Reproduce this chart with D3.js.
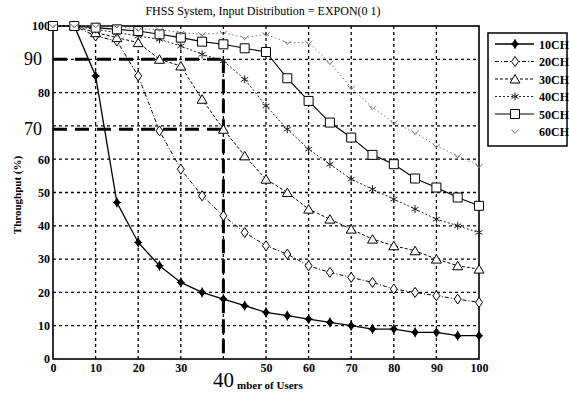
<!DOCTYPE html>
<html><head><meta charset="utf-8">
<script src="https://cdn.jsdelivr.net/npm/d3@7"></script>
<style>body{margin:0;background:#fff}svg{display:block}text{font-family:"Liberation Serif","DejaVu Serif",serif}</style>
</head><body><svg id="c" width="569" height="396"></svg>
<script>
const users = [0,5,10,15,20,25,30,35,40,45,50,55,60,65,70,75,80,85,90,95,100];
const ch10 = [100,100,85,47,35,28,23,20,18,16,14,13,12,11,10,9,9,8,8,7,7];
const ch20 = [100,100,97,95.5,85,68.5,57,49,43,38,34,31.5,28,26,24.5,23,21,20,19,18,17];
const ch30 = [100,100,98,96.5,95,90,88,78,69,61,54,50,45,42,39,36,34,32.5,30,28,27];
const ch40 = [100,100,99,98,97,96,94,91.5,89.5,84,76,69,63,58.5,54,51,48,45,42,40,38];
const ch50 = [100,100,99.5,99,98.5,97.5,96.5,95.3,94.5,93.3,92.2,84.3,77.5,71,66.5,61.3,58.5,54.2,51.5,48.5,46];
const ch60 = [100,100,100,100,99,99,98,97.5,98,96.5,97.5,95,95,89,81.5,75.5,71,68,64,61,58];
const seriesNames = ["10CH","20CH","30CH","40CH","50CH","60CH"];
const xTicks = [0,10,20,30,40,50,60,70,80,90,100];
const yTicks = [0,10,20,30,40,50,60,70,80,90,100];
const bigY = [90,69];
const bigX = 40;
const title = "FHSS System, Input Distribution = EXPON(0 1)";
const xLabel = "mber of Users";
const yLabel = "Throughput (%)";

const svg = d3.select("#c");
const x = d3.scaleLinear().domain([0,100]).range([53,479]);
const y = d3.scaleLinear().domain([0,100]).range([359,26]);

// grid
const g = svg.append("g");
g.selectAll("line.gx").data(xTicks.slice(1,-1)).join("line")
 .attr("x1",d=>x(d)).attr("x2",d=>x(d)).attr("y1",y(0)).attr("y2",y(100))
 .attr("stroke","#000").attr("stroke-width",1.3).attr("stroke-dasharray","3,3");
g.selectAll("line.gy").data(yTicks.slice(1,-1)).join("line")
 .attr("y1",d=>y(d)).attr("y2",d=>y(d)).attr("x1",x(0)).attr("x2",x(100))
 .attr("stroke","#000").attr("stroke-width",1.3).attr("stroke-dasharray","3,3");

// thick dashed reference lines
bigY.forEach(v=>{
  svg.append("line").attr("x1",x(0)).attr("x2",x(bigX)).attr("y1",y(v)).attr("y2",y(v))
   .attr("stroke","#000").attr("stroke-width",3).attr("stroke-dasharray","14,8");
});
svg.append("line").attr("x1",x(bigX)).attr("x2",x(bigX)).attr("y1",y(bigY[0])).attr("y2",y(0))
 .attr("stroke","#000").attr("stroke-width",3).attr("stroke-dasharray","14,6");

// frame
svg.append("rect").attr("x",x(0)).attr("y",y(100)).attr("width",x(100)-x(0)).attr("height",y(0)-y(100))
 .attr("fill","none").attr("stroke","#000").attr("stroke-width",1.6);

// axes
const fmtY = d => (d===90||d===70)?"":d;
const ay = svg.append("g").attr("transform",`translate(${x(0)},0)`)
 .call(d3.axisLeft(y).tickValues(yTicks).tickSize(0).tickPadding(3).tickFormat(fmtY));
const ax = svg.append("g").attr("transform",`translate(0,${y(0)})`)
 .call(d3.axisBottom(x).tickValues(xTicks).tickSize(0).tickPadding(4).tickFormat(d=>d===bigX?"":d));
[ax,ay].forEach(a=>{a.select(".domain").remove();a.selectAll("text").attr("font-size",12).attr("font-weight","bold").attr("font-family","Liberation Serif").attr("fill","#000");});

// big labels
bigY.forEach((v,i)=>{
  svg.append("text").attr("x",42).attr("y",y(v)+6).attr("text-anchor","end")
   .attr("font-size",18).text(i===0?"90":"70");
});
svg.append("text").attr("x",x(bigX)).attr("y",387).attr("text-anchor","middle").attr("font-size",21).text(String(bigX));
svg.append("text").attr("x",237).attr("y",389).attr("font-size",11).attr("font-weight","bold").text(xLabel);
svg.append("text").attr("transform","translate(21,195) rotate(-90)").attr("text-anchor","middle")
 .attr("font-size",11).attr("font-weight","bold").text(yLabel);
svg.append("text").attr("x",263).attr("y",15).attr("text-anchor","middle").attr("font-size",12).text(title);

// markers
const sym = {
  "10CH": {p:"M0,-4L3,0L0,4L-3,0Z M-4,0H4 M0,-5V5", fill:"#000"},
  "20CH": {p:"M0,-5L3.5,0L0,5L-3.5,0Z", fill:"#fff"},
  "30CH": {p:"M0,-4.5L5,4L-5,4Z", fill:"#fff"},
  "40CH": {p:"M0,-4V4M-3.5,-2L3.5,2M-3.5,2L3.5,-2", fill:"none"},
  "50CH": {p:"M-4.5,-4.5H4.5V4.5H-4.5Z", fill:"#fff"},
  "60CH": {p:"M-3.5,-2L0,2L3.5,-2", fill:"none"}
};
const styles = {
  "10CH": {dash:null, w:1.3, c:"#000"},
  "20CH": {dash:"4,2,1,2", w:1, c:"#000"},
  "30CH": {dash:"3,2", w:1, c:"#000"},
  "40CH": {dash:"2,2", w:1, c:"#222"},
  "50CH": {dash:null, w:1.1, c:"#000"},
  "60CH": {dash:"1.5,2.5", w:1, c:"#777"}
};
const data = [ch10,ch20,ch30,ch40,ch50,ch60];
const line = d3.line().x((d,i)=>x(users[i])).y(d=>y(d));
data.forEach((vals,k)=>{
  const n = seriesNames[k], st = styles[n], sm = sym[n];
  svg.append("path").attr("d",line(vals)).attr("fill","none").attr("stroke",st.c)
   .attr("stroke-width",st.w).attr("stroke-dasharray",st.dash);
  svg.append("g").selectAll("path").data(vals).join("path")
   .attr("transform",(d,i)=>`translate(${x(users[i])},${y(d)})`)
   .attr("d",sm.p).attr("fill",sm.fill).attr("stroke",st.c).attr("stroke-width",1);
});

// legend
const lg = svg.append("g");
lg.append("rect").attr("x",488).attr("y",33).attr("width",79).attr("height",113)
 .attr("fill","#fff").attr("stroke","#000").attr("stroke-width",1.5);
seriesNames.forEach((n,i)=>{
  const yy = 44 + i*17.5, st = styles[n], sm = sym[n];
  if(n!=="60CH") lg.append("line").attr("x1",495).attr("x2",534).attr("y1",yy).attr("y2",yy)
    .attr("stroke",st.c).attr("stroke-width",st.w).attr("stroke-dasharray",st.dash);
  lg.append("path").attr("transform",`translate(515,${yy})`).attr("d",sm.p).attr("fill",sm.fill)
    .attr("stroke",st.c).attr("stroke-width",1);
  lg.append("text").attr("x",539).attr("y",yy+4.5).attr("font-size",12).attr("font-weight","bold").text(n);
});
</script></body></html>
